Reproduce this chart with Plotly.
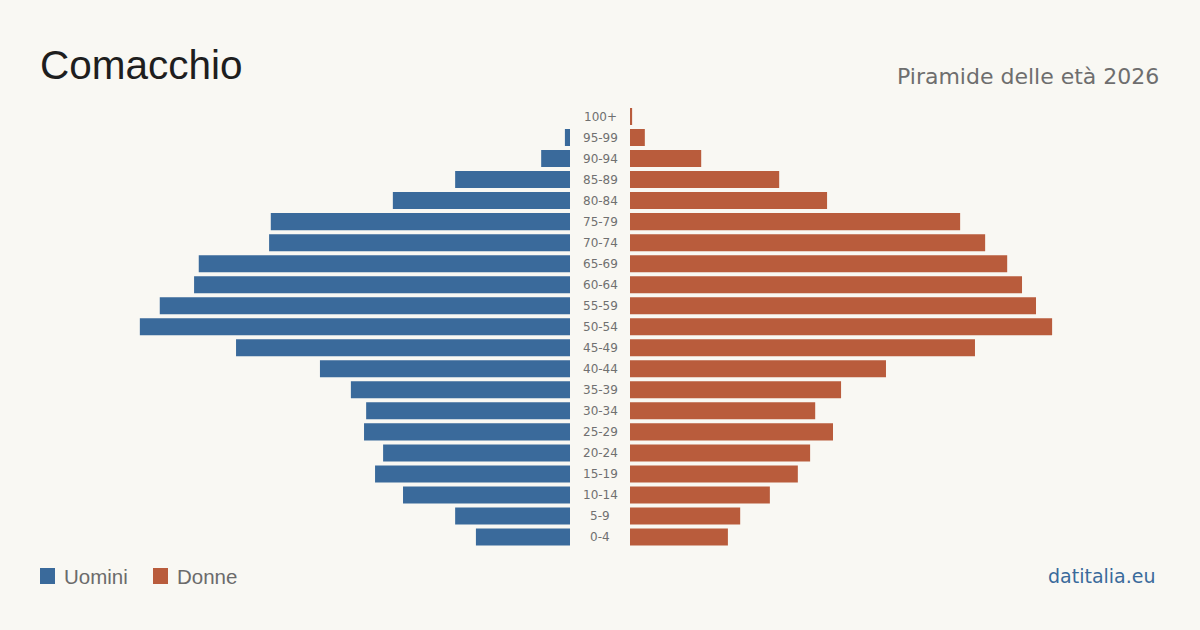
import plotly.graph_objects as go

ages = ["0-4", "5-9", "10-14", "15-19", "20-24", "25-29", "30-34", "35-39", "40-44",
        "45-49", "50-54", "55-59", "60-64", "65-69", "70-74", "75-79", "80-84",
        "85-89", "90-94", "95-99", "100+"]
uomini = [222, 271, 394, 460, 441, 486, 481, 517, 590, 788, 1015, 968, 887, 876,
          710, 706, 418, 271, 68, 12, 0]
donne = [231, 260, 330, 396, 425, 479, 437, 498, 604, 814, 996, 958, 925, 890,
         838, 779, 465, 352, 168, 35, 5]

BLUE = "#3a6a9b"
ORANGE = "#b95c3c"
BG = "#f9f8f3"
XMAX = 1109
W, H = 1200, 630

fig = go.Figure()
fig.add_trace(go.Bar(y=ages, x=uomini, orientation="h", marker_color=BLUE,
                     marker_line_width=0,
                     xaxis="x", yaxis="y", name="Uomini", showlegend=False,
                     hoverinfo="x+y"))
fig.add_trace(go.Bar(y=ages, x=donne, orientation="h", marker_color=ORANGE,
                     marker_line_width=0,
                     xaxis="x2", yaxis="y", name="Donne", showlegend=False,
                     hoverinfo="x+y"))

ytop, ybot = 106.0, 547.5
ydom = [(H - ybot) / H, (H - ytop) / H]

fig.update_layout(
    width=W, height=H,
    margin=dict(l=0, r=0, t=0, b=0),
    paper_bgcolor=BG, plot_bgcolor=BG,
    bargap=4 / 21,
    xaxis=dict(domain=[100 / W, 570 / W], range=[XMAX, 0], visible=False, fixedrange=True),
    xaxis2=dict(domain=[630 / W, 1100 / W], range=[0, XMAX], visible=False, fixedrange=True),
    yaxis=dict(domain=ydom, range=[-0.5, len(ages) - 0.5], visible=False,
               categoryorder="array", categoryarray=ages),
    font=dict(family="Liberation Sans, Arial, sans-serif"),
)

for a in ages:
    fig.add_annotation(x=0.5, xref="paper", y=a, yref="y", text=a, showarrow=False,
                       font=dict(size=12, color="#707070", family="DejaVu Sans"),
                       xanchor="center", yanchor="middle")

fig.add_annotation(x=38 / W, y=(H - 65) / H, xref="paper", yref="paper", text="Comacchio",
                   showarrow=False, xanchor="left", yanchor="middle",
                   font=dict(size=40.5, color="#1e1e1e", family="Liberation Sans, Arial"))
fig.add_annotation(x=1161 / W, y=(H - 76) / H, xref="paper", yref="paper",
                   text="Piramide delle età 2026", showarrow=False,
                   xanchor="right", yanchor="middle",
                   font=dict(size=22, color="#6e6e6e", family="DejaVu Sans"))
fig.add_annotation(x=1158 / W, y=(H - 576) / H, xref="paper", yref="paper",
                   text="datitalia.eu", showarrow=False, xanchor="right", yanchor="middle",
                   font=dict(size=19, color="#3a6a9b", family="DejaVu Sans"))

# legend
for x0, col, lab in [(40, BLUE, "Uomini"), (153, ORANGE, "Donne")]:
    fig.add_shape(type="rect", xref="paper", yref="paper",
                  x0=x0 / W, x1=(x0 + 15) / W, y0=(H - 584) / H, y1=(H - 568) / H,
                  fillcolor=col, line=dict(width=0))
    fig.add_annotation(x=(x0 + 22) / W, y=(H - 576) / H, xref="paper", yref="paper",
                       text=lab, showarrow=False, xanchor="left", yanchor="middle",
                       font=dict(size=20.5, color="#6b6b6b", family="Liberation Sans, Arial"))

fig.write_html("out.html")
